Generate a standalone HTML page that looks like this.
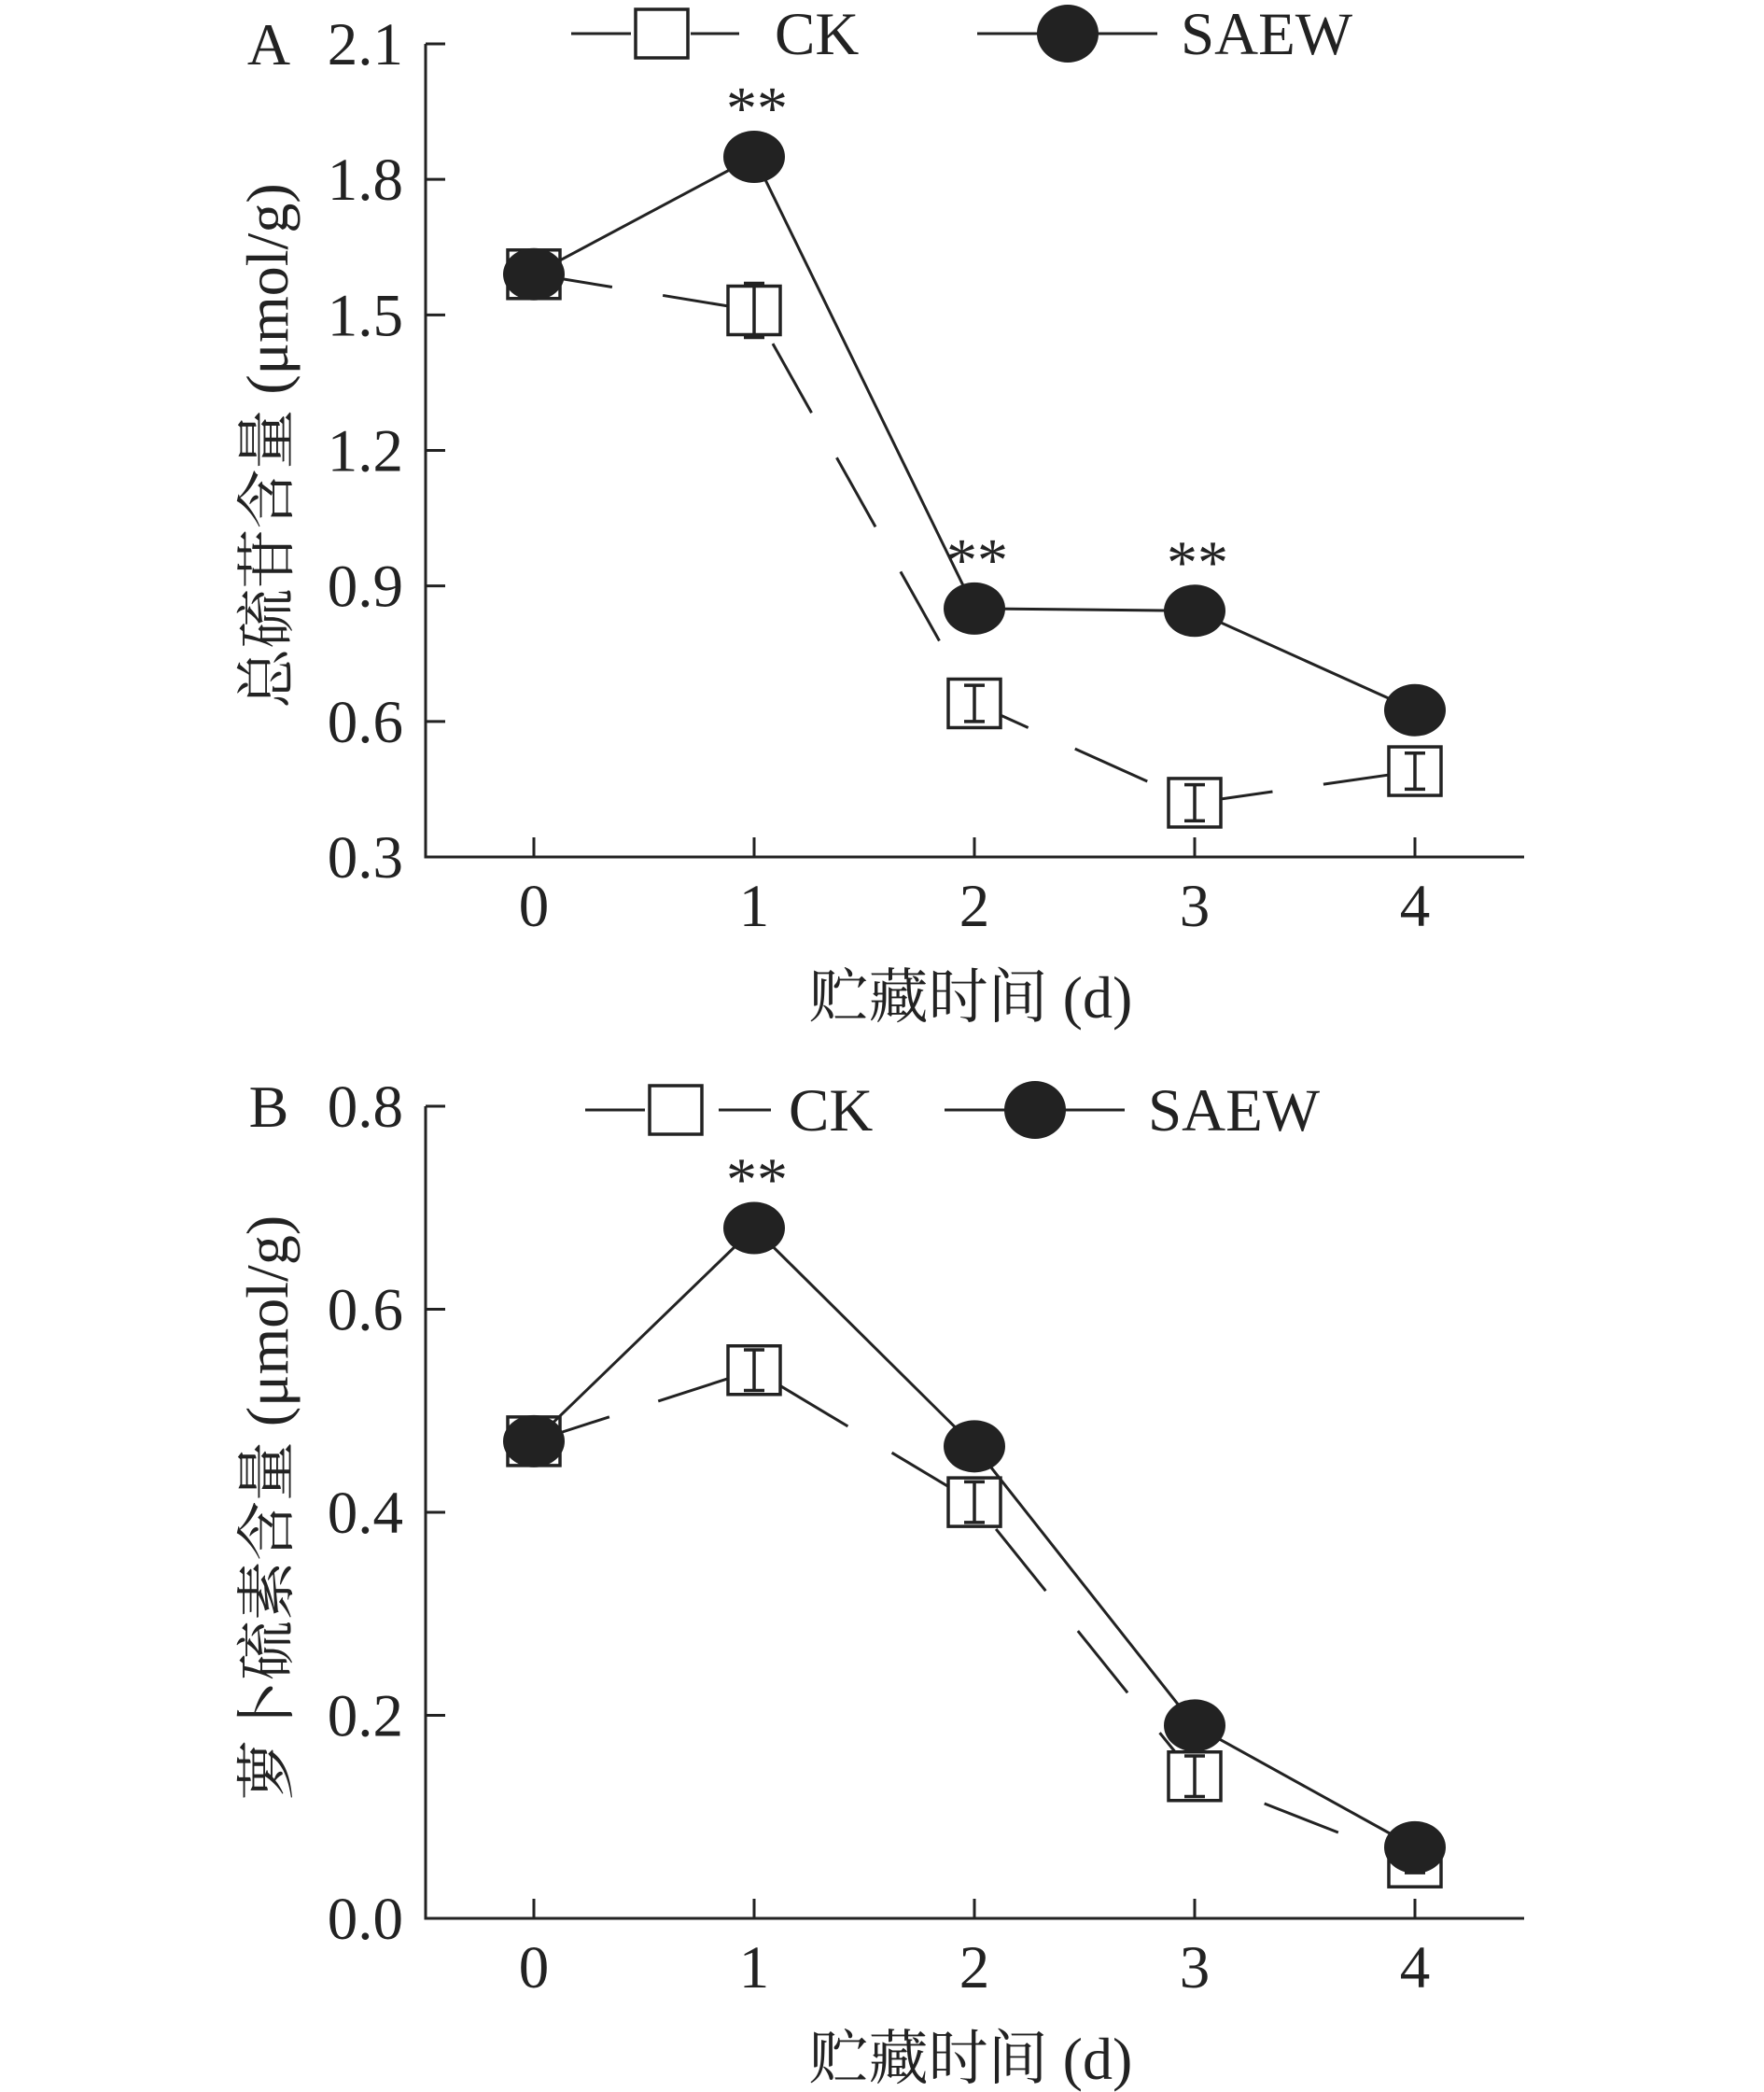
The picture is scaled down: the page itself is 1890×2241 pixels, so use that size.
<!DOCTYPE html>
<html><head><meta charset="utf-8"><style>
html,body{margin:0;padding:0;background:#fff}
svg{display:block}
text{font-family:"Liberation Serif","Noto Serif CJK SC",serif;fill:#222}
</style></head><body>
<svg id="fig" width="1890" height="2241" viewBox="0 0 1890 2241" xmlns="http://www.w3.org/2000/svg"></svg>
<script>
const days = [0, 1, 2, 3, 4];
const xTickLabels = ["0", "1", "2", "3", "4"];
const aTicks = ["0.3", "0.6", "0.9", "1.2", "1.5", "1.8", "2.1"];
const aSAEW = [1.59, 1.85, 0.85, 0.845, 0.625];
const aCK = [1.59, 1.51, 0.64, 0.42, 0.49];
const aCKErr = [0.02, 0.06, 0.04, 0.04, 0.04];
const aStars = [false, true, true, true, false];
const bTicks = ["0.0", "0.2", "0.4", "0.6", "0.8"];
const bSAEW = [0.47, 0.68, 0.465, 0.19, 0.07];
const bCK = [0.47, 0.54, 0.41, 0.14, 0.055];
const bCKErr = [0.01, 0.02, 0.02, 0.02, 0.01];
const bStars = [false, true, false, false, false];

const NS = "http://www.w3.org/2000/svg";
const svg = document.getElementById('fig');
function mk(tag, attrs, parent, txt){
  const e = document.createElementNS(NS, tag);
  for (const k in attrs) e.setAttribute(k, attrs[k]);
  if (txt !== undefined) e.textContent = txt;
  (parent || svg).appendChild(e);
  return e;
}

function panel(cfg){
  const g = mk('g', {});
  
  
  const L = 456, R = 1633, top = cfg.top, bot = cfg.bot;
  const x = d => 572 + d * 236;
  const y = v => bot - (v - cfg.min) / (cfg.max - cfg.min) * (bot - top);
  const ax = mk('path', {d:`M${L} ${top} V${bot} H${R}`, fill:'none', stroke:'#222', 'stroke-width':3}, g);
  
  
  cfg.ticks.forEach((t, i) => {
    const v = parseFloat(t);
    mk('line', {x1:L, x2:L+21, y1:y(v), y2:y(v), stroke:'#222', 'stroke-width':3}, g);
    const tl = mk('text', {x:432, y:y(v)+22, 'font-size':65, 'text-anchor':'end'}, g, t);
    
    
  });
  days.forEach((d, i) => {
    mk('line', {x1:x(d), x2:x(d), y1:bot, y2:bot-21, stroke:'#222', 'stroke-width':3}, g);
    const tl = mk('text', {x:x(d), y:bot+74, 'font-size':65, 'text-anchor':'middle'}, g, xTickLabels[i]);
    
    
  });
  const pl = mk('text', {x:288, y:top+22, 'font-size':64, 'text-anchor':'middle'}, g, cfg.letter);
  
  
  const yt = mk('text', {x:0, y:0, 'font-size':64, 'text-anchor':'middle', transform:`translate(308 ${(top+bot)/2 - 5}) rotate(-90)`}, g, cfg.ytitle);
  
  
  const xt = mk('text', {x:1040, y:bot+172, 'font-size':64, 'text-anchor':'middle'}, g, '贮藏时间 (d)');
  
  
  const ckPts = days.map((d,i)=>`${x(d)},${y(cfg.ck[i])}`).join(' ');
  const ckl = mk('polyline', {points:ckPts, fill:'none', stroke:'#222', 'stroke-width':3, 'stroke-dasharray':'85 55'}, g);
  
  
  days.forEach((d,i)=>{
    const cx = x(d), cy = y(cfg.ck[i]);
    const s = mk('rect', {x:cx-28, y:cy-26, width:56, height:52, fill:'#fff', stroke:'#222', 'stroke-width':3.5}, g);
    
    
    const e1 = y(cfg.ck[i]+cfg.err[i]), e2 = y(cfg.ck[i]-cfg.err[i]);
    mk('path', {d:`M${cx} ${e1} V${e2} M${cx-11} ${e1} H${cx+11} M${cx-11} ${e2} H${cx+11}`, stroke:'#222', 'stroke-width':3.5, fill:'none'}, g);
  });
  const sPts = days.map((d,i)=>`${x(d)},${y(cfg.saew[i])}`).join(' ');
  const sl = mk('polyline', {points:sPts, fill:'none', stroke:'#222', 'stroke-width':3}, g);
  
  
  days.forEach((d,i)=>{
    const c = mk('ellipse', {cx:x(d), cy:y(cfg.saew[i]), rx:33, ry:28, fill:'#222'}, g);
    
    
    if (cfg.stars[i]) {
      const st = mk('text', {x:x(d)+3, y:y(cfg.saew[i])-30, 'font-size':66, 'text-anchor':'middle'}, g, '**');
      
      
    }
  });
  const lg = mk('g', {}, g);
  
  
  const ly = cfg.ly, o = cfg.lo;
  mk('line', {x1:612+o, x2:676+o, y1:ly, y2:ly, stroke:'#222','stroke-width':3}, lg);
  mk('line', {x1:cfg.l2a, x2:cfg.l2b, y1:ly, y2:ly, stroke:'#222','stroke-width':3}, lg);
  mk('rect', {x:681+o, y:ly-26, width:56, height:52, fill:'#fff', stroke:'#222','stroke-width':3.5}, lg);
  const t1 = mk('text', {x:830+o, y:ly+22, 'font-size':65}, lg, 'CK');
  
  
  const o2 = cfg.lo2;
  mk('line', {x1:1047+o2, x2:1240+o2, y1:ly, y2:ly, stroke:'#222','stroke-width':3}, lg);
  mk('ellipse', {cx:1144+o2, cy:ly, rx:33, ry:31, fill:'#222'}, lg);
  const t2 = mk('text', {x:1265+o2, y:ly+22, 'font-size':65}, lg, 'SAEW');
  
  
}

panel({name:'panel-a', letter:'A', top:47, bot:918, min:0.3, max:2.1, ticks:aTicks,
  saew:aSAEW, ck:aCK, err:aCKErr, stars:aStars, ytitle:'总硫苷含量 (μmol/g)', ly:36, lo:0, lo2:0, l2a:740, l2b:792});
panel({name:'panel-b', letter:'B', top:1185, bot:2055, min:0, max:0.8, ticks:bTicks,
  saew:bSAEW, ck:bCK, err:bCKErr, stars:bStars, ytitle:'萝卜硫素含量 (μmol/g)', ly:1189, lo:15, lo2:-35, l2a:770, l2b:826});
</script>
</body></html>
